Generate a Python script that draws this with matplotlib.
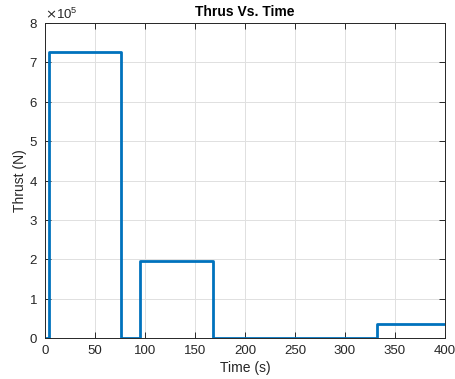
import matplotlib
matplotlib.use("Agg")
import matplotlib.pyplot as plt
from matplotlib.ticker import ScalarFormatter

time_s = [0, 4, 76, 95, 168, 332, 400]
thrust_N = [0, 7.27e5, 0, 1.95e5, 0, 0.35e5, 0.35e5]
xticks = [0, 50, 100, 150, 200, 250, 300, 350, 400]
yticks = [0, 1e5, 2e5, 3e5, 4e5, 5e5, 6e5, 7e5, 8e5]

plt.rcParams['font.family'] = ['Liberation Sans', 'DejaVu Sans']
fig = plt.figure(figsize=(4.55, 3.79), dpi=100)
ax = fig.add_axes([0.099, 0.108, 0.879, 0.831])
ax.plot(time_s, thrust_N, drawstyle='steps-post', color='#0072BD', linewidth=2)
ax.set_xlim(0, 400)
ax.set_ylim(0, 8e5)
ax.set_xticks(xticks)
ax.set_yticks(yticks)
fmt = ScalarFormatter(useMathText=True)
fmt.set_powerlimits((0, 0))
ax.yaxis.set_major_formatter(fmt)
ax.yaxis.get_offset_text().set_fontsize(9.5)
ax.yaxis.get_offset_text().set_color('#262626')
ax.grid(True, color='#e0e0e0', linewidth=0.7)
ax.set_axisbelow(True)
ax.tick_params(direction='in', top=True, right=True, labelsize=9.5, length=4, width=0.7, colors='#262626', pad=5)
for s in ax.spines.values():
    s.set_color('#262626')
    s.set_linewidth(0.7)
ax.set_xlabel('Time (s)', fontsize=10, color='#262626', labelpad=3)
ax.set_ylabel('Thrust (N)', fontsize=10, color='#262626')
ax.yaxis.set_label_coords(-0.045, 0.5)
ax.set_title('Thrus Vs. Time', fontsize=10, fontweight='bold', pad=5)
fig.savefig('out.png', dpi=100)
